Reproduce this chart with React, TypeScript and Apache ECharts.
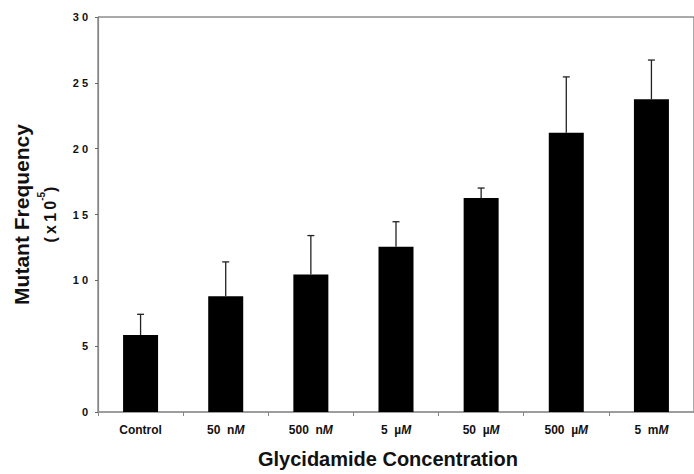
import React, { useEffect, useRef } from "react";
import * as echarts from "echarts";

const categories = ["Control", "50 nM", "500 nM", "5 µM", "50 µM", "500 µM", "5 mM"];
const meanValues = [5.85, 8.8, 10.45, 12.55, 16.25, 21.2, 23.75];
const errorValues = [1.57, 2.6, 2.95, 1.9, 0.76, 4.25, 2.98];
const yTicks = { min: 0, max: 30, interval: 5 };

function formatCategory(c: string): string {
  if (c === "Control") return c;
  const parts = c.split(" ");
  const unit = parts[1];
  return parts[0] + "  " + unit.slice(0, -1) + "{i|M}";
}

export default function App() {
  const ref = useRef<HTMLDivElement>(null);
  useEffect(() => {
    if (!ref.current) return;
    const chart = echarts.init(ref.current, undefined, { renderer: "svg" });
    const errData = categories.map((_, i) => [i, meanValues[i], meanValues[i] + errorValues[i]]);
    const font = "Arial, Liberation Sans, sans-serif";
    chart.setOption({
      animation: false,
      backgroundColor: "#ffffff",
      grid: {
        left: 98,
        top: 17,
        width: 600,
        bottom: 62,
        show: true,
        borderColor: "#555",
        borderWidth: 1,
        backgroundColor: "transparent",
      },
      xAxis: {
        type: "category",
        data: categories,
        axisLine: { lineStyle: { color: "#999", width: 1.5 } },
        axisTick: { show: true, length: 4, lineStyle: { color: "#888" } },
        axisLabel: {
          margin: 12,
          color: "#111",
          fontFamily: font,
          fontWeight: "bold",
          fontSize: 12,
          formatter: (v: string) => formatCategory(v),
          rich: {
            i: {
              fontStyle: "italic",
              fontWeight: "bold",
              fontSize: 12,
              fontFamily: font,
              color: "#111",
            },
          },
        },
        name: "Glycidamide Concentration",
        nameLocation: "middle",
        nameGap: 37,
        nameTextStyle: {
          color: "#111",
          fontFamily: font,
          fontWeight: "bold",
          fontSize: 20,
          padding: [0, 16, 0, 0],
        },
      },
      yAxis: {
        type: "value",
        min: yTicks.min,
        max: yTicks.max,
        interval: yTicks.interval,
        splitLine: { show: false },
        axisLine: { show: true, lineStyle: { color: "#888", width: 1.2 } },
        axisTick: { show: true, length: 3, lineStyle: { color: "#666" } },
        axisLabel: {
          margin: 10,
          color: "#111",
          fontFamily: font,
          fontWeight: "bold",
          fontSize: 11,
          formatter: (v: number) => String(v).split("").join(" "),
        },
        name: "{a|Mutant Frequency}\n{b|(\u2009x\u20091\u20090}{s|-5}{b|)}",
        nameLocation: "middle",
        nameGap: 34,
        nameRotate: 90,
        nameTextStyle: {
          rich: {
            a: {
              fontFamily: font,
              fontWeight: "bold",
              fontSize: 21,
              color: "#111",
              lineHeight: 30,
            },
            b: {
              fontFamily: font,
              fontWeight: "bold",
              fontSize: 16,
              color: "#111",
              lineHeight: 28,
            },
            s: {
              fontFamily: font,
              fontWeight: "bold",
              fontSize: 10,
              color: "#111",
              verticalAlign: "top",
              lineHeight: 22,
            },
          },
        },
      },
      series: [
        {
          type: "bar",
          data: meanValues,
          barWidth: 35,
          itemStyle: { color: "#000" },
        },
        {
          type: "custom",
          data: errData,
          z: 5,
          renderItem: (params: any, api: any) => {
            const idx = api.value(0);
            const p0 = api.coord([idx, api.value(1)]);
            const p1 = api.coord([idx, api.value(2)]);
            const style = { stroke: "#222", lineWidth: 1.3 };
            return {
              type: "group",
              children: [
                { type: "line", shape: { x1: p0[0], y1: p0[1], x2: p1[0], y2: p1[1] }, style },
                { type: "line", shape: { x1: p1[0] - 3.5, y1: p1[1], x2: p1[0] + 3.5, y2: p1[1] }, style },
              ],
            };
          },
        },
      ],
    });
    return () => chart.dispose();
  }, []);
  return (
    <div
      ref={ref}
      style={{ position: "fixed", left: 0, top: 0, width: 694, height: 474, background: "#fff" }}
    />
  );
}
